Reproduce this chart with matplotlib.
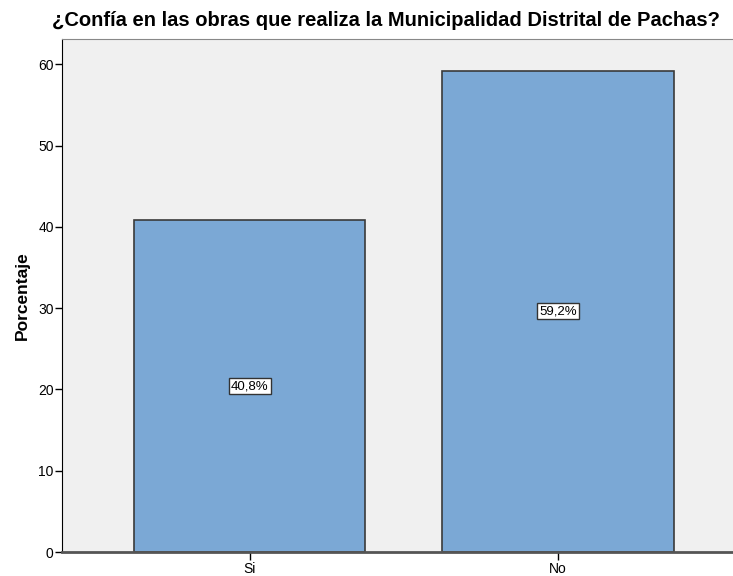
import matplotlib
matplotlib.use("Agg")
import matplotlib.pyplot as plt

# datos
categorias = ["Si", "No"]
porcentajes = [40.8, 59.2]
etiquetas = ["40,8%", "59,2%"]
titulo = "¿Confía en las obras que realiza la Municipalidad Distrital de Pachas?"

plt.rcParams["font.family"] = ["Liberation Sans", "DejaVu Sans"]

fig = plt.figure(figsize=(7.33, 5.76), dpi=100)
ax = fig.add_axes([62 / 733, 24 / 576, 1 - 62 / 733, 513 / 576])
ax.set_facecolor("#F0F0F0")

x = list(range(len(categorias)))
ax.bar(x, porcentajes, width=0.75, color="#7BA8D5", edgecolor="#3a3a3a", linewidth=1.2, zorder=2)

for xi, v, txt in zip(x, porcentajes, etiquetas):
    ax.text(xi, v / 2, txt, ha="center", va="center", fontsize=9.5, zorder=3,
            bbox=dict(boxstyle="square,pad=0.15", fc="white", ec="#333333", lw=1))

ax.set_xlim(-0.61, 1.568)
ax.set_ylim(0, 63.1)
ax.set_xticks(x)
ax.set_xticklabels(categorias, fontsize=10)
ax.set_yticks([0, 10, 20, 30, 40, 50, 60])
ax.tick_params(axis="y", labelsize=10, length=5, width=1, pad=1)
ax.tick_params(axis="x", length=6, width=1, pad=1)
ax.set_ylabel("Porcentaje", fontsize=12.5, fontweight="bold", labelpad=6)

ax.spines["left"].set_color("black")
ax.spines["bottom"].set_color("#555555")
ax.spines["bottom"].set_linewidth(2)
ax.spines["top"].set_color("#888888")
ax.spines["right"].set_visible(False)

fig.text(386 / 733, 1 - 20 / 576, titulo, ha="center", va="center", fontsize=14.5, fontweight="bold")

fig.savefig("out.png", dpi=100)
